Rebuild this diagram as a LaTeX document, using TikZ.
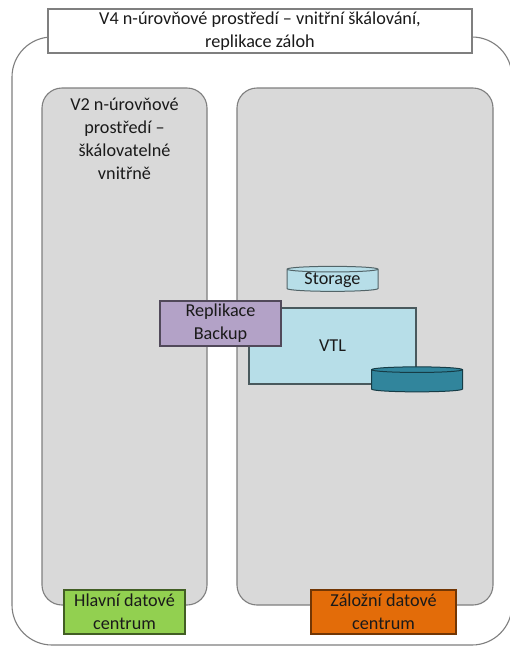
\documentclass[tikz,border=0pt]{standalone}
\usepackage{fontspec}
\setmainfont{Carlito}
\usepackage{xcolor}
\usetikzlibrary{shapes.geometric}
\definecolor{rim}{HTML}{7F7F7F}
\definecolor{panel}{HTML}{D9D9D9}
\definecolor{ice}{HTML}{B7DEE8}
\definecolor{lilac}{HTML}{B3A2C7}
\definecolor{teal2}{HTML}{31859C}
\definecolor{leaf}{HTML}{92D050}
\definecolor{rust}{HTML}{E36C09}
\definecolor{ink}{HTML}{1A1A1A}

\begin{document}
\begin{tikzpicture}[x=1pt,y=-1pt,
    every node/.style={text=ink,font=\fontsize{18.2}{23}\selectfont},
    box/.style={draw=rim,line width=1.1pt,rectangle,inner sep=0pt,align=center},
    panelbox/.style={box,fill=panel,rounded corners=20pt},
    drum/.style={cylinder,shape border rotate=90,draw=#1!45!black,line width=1pt,
        cylinder uses custom fill,cylinder body fill=#1,cylinder end fill=#1,
        aspect=0.1,minimum width=91pt,minimum height=25pt,inner sep=0pt}]
    \useasboundingbox[fill=white] (0,0) rectangle (510,646);
    \node[box,fill=white,rounded corners=40pt,minimum width=500pt,minimum height=608pt] (outer) at (262,341) {};
    \node[box,fill=white,minimum width=424pt,minimum height=44pt] (title) at (260,31) {V4 n-úrovňové prostředí – vnitřní škálování,\\replikace záloh};
    \node[panelbox,minimum width=165pt,minimum height=517pt] (main) at (124.5,346.5) {};
    \node[panelbox,minimum width=256pt,minimum height=517pt] (backup) at (365,346.5) {};
    \node[align=center,anchor=north,inner sep=0pt] (v2) at (124.5,98) {V2 n-úrovňové\\prostředí –\\škálovatelné\\vnitřně};
    \node[drum=ice] (storage) at (332.5,280.5) {Storage};
    \node[box,fill=ice,draw=ice!40!black,minimum width=167pt,minimum height=76pt] (vtl) at (332.5,346) {VTL};
    \node[drum=teal2] (disk) at (417,381) {\phantom{Storage}};
    \node[box,fill=lilac,draw=lilac!45!black,minimum width=121pt,minimum height=45pt] (repl) at (220.5,323.5) {Replikace\\Backup};
    \node[box,fill=leaf,draw=leaf!45!black,minimum width=121pt,minimum height=44pt] (hlavni) at (124.5,612) {Hlavní datové\\centrum};
    \node[box,fill=rust,draw=rust!50!black,minimum width=145pt,minimum height=44pt] (zalozni) at (383.5,612) {Záložní datové\\centrum};
\end{tikzpicture}
\end{document}
